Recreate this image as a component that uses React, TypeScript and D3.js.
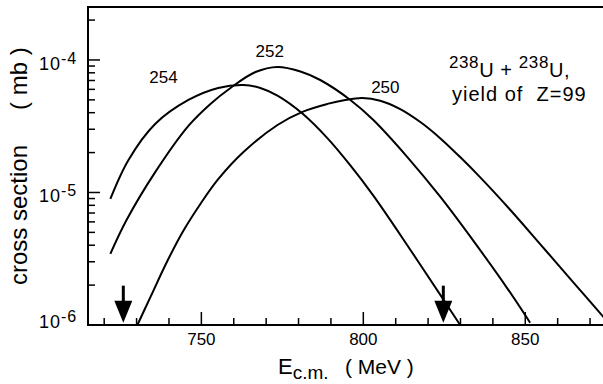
import * as d3 from 'd3';
import React, { useEffect, useRef } from 'react';

// values: [E_cm (MeV), cross section (mb)]
const curve254 = [
  [721.9, 8.93e-6], [727.5, 1.76e-5], [735.8, 3.3e-5], [746.0, 4.99e-5],
  [755.2, 6.15e-5], [763.0, 6.47e-5], [768.2, 6.15e-5], [773.5, 5.38e-5],
  [781.2, 3.94e-5], [788.9, 2.57e-5], [796.0, 1.6e-5], [803.1, 9.46e-6],
  [814.5, 3.7e-6], [824.7, 1.56e-6], [829.9, 1.0e-6],
];
const curve252 = [
  [721.9, 3.44e-6], [726.9, 6.19e-6], [735.8, 1.43e-5], [746.0, 3.18e-5],
  [752.8, 4.66e-5], [759.0, 6.15e-5], [766.7, 8.11e-5], [773.5, 8.86e-5],
  [780.6, 8.19e-5], [786.7, 7.06e-5], [796.0, 4.99e-5], [803.1, 3.52e-5],
  [813.6, 1.85e-5], [823.8, 9.25e-6], [834.0, 4.31e-6], [844.4, 1.9e-6],
  [851.5, 1.04e-6],
];
const curve250 = [
  [730.25, 1.0e-6], [734.3, 1.63e-6], [739.5, 3.04e-6], [744.4, 5.12e-6],
  [749.7, 8.19e-6], [755.2, 1.26e-5], [763.0, 2.02e-5], [773.5, 3.23e-5],
  [781.2, 4.06e-5], [788.9, 4.66e-5], [794.4, 4.99e-5], [799.7, 5.16e-5],
  [805.2, 4.93e-5], [811.4, 4.26e-5], [817.6, 3.4e-5], [823.8, 2.56e-5],
  [829.9, 1.85e-5], [836.1, 1.3e-5], [845.4, 7.38e-6], [854.6, 4.08e-6],
  [863.9, 2.23e-6], [874.1, 1.15e-6], [876.0, 1.01e-6],
];
const curveLabels = [
  { text: '254', e: 738.3, v: 6.7e-5 },
  { text: '252', e: 771.1, v: 1.054e-4 },
  { text: '250', e: 806.8, v: 5.63e-5 },
];
const arrowEnergies = [725.9, 824.7];
const arrowTop = 1.98e-6;
const arrowTip = 1.04e-6;

const xMajor = [750, 800, 850];
const xMinor = [720, 730, 740, 760, 770, 780, 790, 810, 820, 830, 840, 860, 870];
const yDecades = [-6, -5, -4];

const W = 603;
const H = 384;

export default function App() {
  const ref = useRef<SVGSVGElement>(null);

  useEffect(() => {
    const svg = d3.select(ref.current);
    svg.selectAll('*').remove();
    const font = 'Liberation Sans, Arial, Helvetica, sans-serif';

    const x = d3.scaleLinear().domain([715, 874]).range([88, 603]);
    const y = d3.scaleLog().domain([1e-6, 2.51e-4]).range([325, 7]);

    const g = svg.append('g').attr('font-family', font).attr('fill', '#000');

    // frame: left, top, bottom
    g.append('path')
      .attr('d', `M${W},${y(2.51e-4)}H${x(715)}V${y(1e-6)}H${W}`)
      .attr('fill', 'none')
      .attr('stroke', '#000')
      .attr('stroke-width', 2);

    // y ticks
    const yMinor: number[] = [];
    yDecades.forEach(p => {
      for (let m = 2; m <= 9; m++) {
        const v = m * Math.pow(10, p);
        if (v < 2.51e-4) yMinor.push(v);
      }
    });
    g.selectAll('line.ymin').data(yMinor).enter().append('line')
      .attr('x1', 88).attr('x2', 95)
      .attr('y1', d => y(d)).attr('y2', d => y(d))
      .attr('stroke', '#000').attr('stroke-width', 1.5);
    g.selectAll('line.ymaj').data(yDecades).enter().append('line')
      .attr('x1', 88).attr('x2', 100)
      .attr('y1', d => y(Math.pow(10, d))).attr('y2', d => y(Math.pow(10, d)))
      .attr('stroke', '#000').attr('stroke-width', 1.5);

    const yl = g.selectAll('text.ylab').data(yDecades).enter().append('text')
      .attr('x', 39)
      .attr('y', d => y(Math.pow(10, d)) + (d === -6 ? 3 : 10))
      .attr('font-size', 18)
      .attr('letter-spacing', 1);
    yl.append('tspan').text('10');
    yl.append('tspan').attr('font-size', 16).attr('dy', -6).text(d => String(d));

    // x ticks
    g.selectAll('line.xmin').data(xMinor).enter().append('line')
      .attr('x1', d => x(d)).attr('x2', d => x(d))
      .attr('y1', 325).attr('y2', 318)
      .attr('stroke', '#000').attr('stroke-width', 1.5);
    g.selectAll('line.xmaj').data(xMajor).enter().append('line')
      .attr('x1', d => x(d)).attr('x2', d => x(d))
      .attr('y1', 325).attr('y2', 312)
      .attr('stroke', '#000').attr('stroke-width', 1.5);
    g.selectAll('text.xlab').data(xMajor).enter().append('text')
      .attr('x', d => x(d)).attr('y', 345)
      .attr('text-anchor', 'middle').attr('font-size', 17)
      .text(d => d);

    // curves
    const line = d3.line<number[]>()
      .x(d => x(d[0]))
      .y(d => y(d[1]))
      .curve(d3.curveCatmullRom);
    [curve254, curve252, curve250].forEach(c => {
      g.append('path').attr('d', line(c))
        .attr('fill', 'none').attr('stroke', '#000').attr('stroke-width', 2);
    });

    g.selectAll('text.clab').data(curveLabels).enter().append('text')
      .attr('x', d => x(d.e)).attr('y', d => y(d.v))
      .attr('text-anchor', 'middle').attr('font-size', 17)
      .text(d => d.text);

    // arrows
    arrowEnergies.forEach(e => {
      const ax = x(e);
      const y0 = y(arrowTop);
      const y1 = y(arrowTip);
      g.append('line')
        .attr('x1', ax).attr('x2', ax).attr('y1', y0).attr('y2', y1 - 15)
        .attr('stroke', '#000').attr('stroke-width', 3);
      g.append('path')
        .attr('d', `M${ax - 9},${y1 - 22}L${ax + 9},${y1 - 22}L${ax},${y1}Z`)
        .attr('fill', '#000');
    });

    // reaction annotation
    const t1 = g.append('text').attr('x', 449).attr('y', 77)
      .attr('font-size', 20).attr('letter-spacing', 0.6);
    t1.append('tspan').attr('font-size', 17).attr('dy', -9).text('238');
    t1.append('tspan').attr('dy', 9).text('U + ');
    t1.append('tspan').attr('font-size', 17).attr('dy', -9).text('238');
    t1.append('tspan').attr('dy', 9).text('U,');
    g.append('text').attr('x', 452).attr('y', 101).attr('font-size', 20)
      .attr('letter-spacing', 1)
      .attr('xml:space', 'preserve')
      .text('yield of  Z=99');

    // axis titles
    const xt = g.append('text').attr('x', 278).attr('y', 374).attr('font-size', 22);
    xt.append('tspan').text('E');
    xt.append('tspan').attr('font-size', 19).attr('dy', 5).text('c.m.');
    xt.append('tspan').attr('x', 345).attr('dy', -5).attr('font-size', 21).text('( MeV )');

    g.append('text')
      .attr('transform', 'translate(27,285) rotate(-90)')
      .attr('font-size', 24)
      .text('cross section');
    g.append('text')
      .attr('transform', 'translate(27,110) rotate(-90)')
      .attr('font-size', 24)
      .text('( mb )');
  }, []);

  return (
    <div style={{ position: 'absolute', left: 0, top: 0 }}>
      <svg ref={ref} width={W} height={H} style={{ display: 'block', background: '#fff' }} />
    </div>
  );
}
